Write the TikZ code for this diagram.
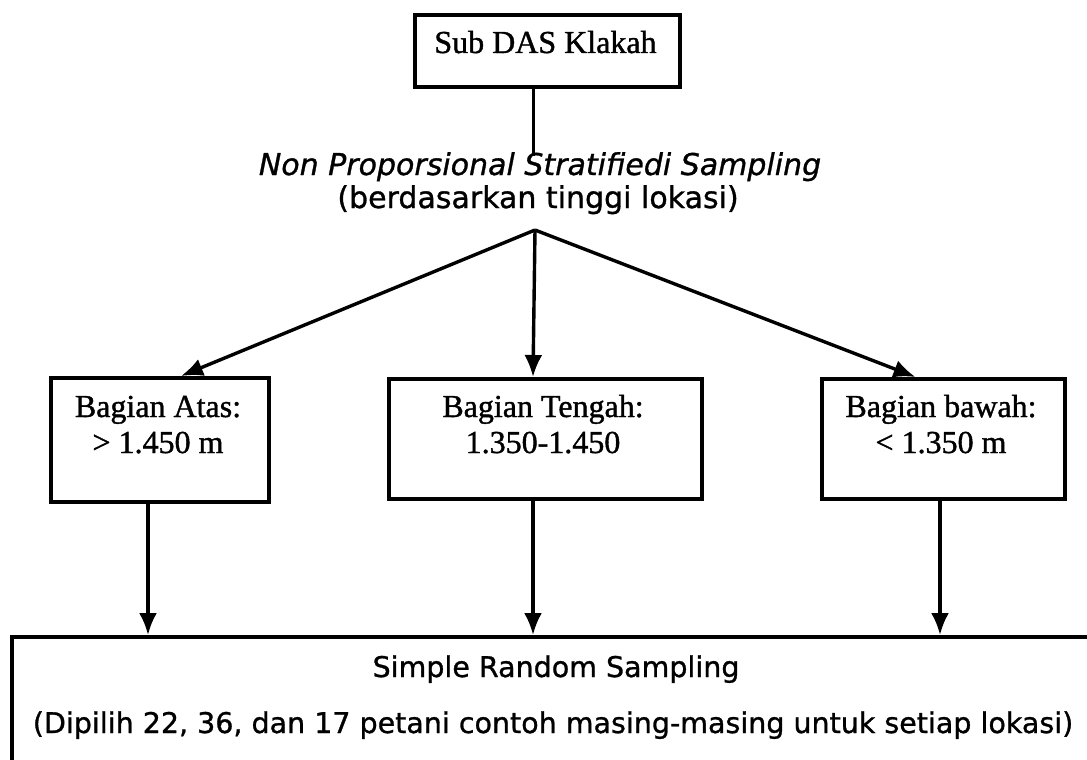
\documentclass[tikz,border=0pt]{standalone}
\usepackage{fontspec}
\setmainfont{Liberation Serif}[FakeBold=1.2]
\newfontfamily\vsans{DejaVu Sans}[FakeBold=1.0]
\usetikzlibrary{arrows.meta,calc}

\tikzset{
  stratbox/.style={draw=black, line width=4pt, rectangle, inner sep=0pt},
  boxtext/.style={font=\fontsize{32}{36}\selectfont, anchor=base, inner sep=0pt},
  sanstext/.style={font=\vsans\fontsize{28.5}{34}\selectfont, anchor=base, inner sep=0pt},
  midtext/.style={font=\vsans\fontsize{30}{33}\selectfont, anchor=base, inner sep=0pt},
  flow/.style={line width=3.4pt, -{Latex[length=22pt,width=18pt]}},
  link/.style={line width=3pt}
}

\begin{document}
\begin{tikzpicture}[x=1pt, y=-1pt]
  \useasboundingbox (0,0) rectangle (1087,760);
  \clip (0,0) rectangle (1087,760);

  % top box
  \node[stratbox, minimum width=265pt, minimum height=72pt, anchor=north west] (top) at (413,13) {};
  \node[boxtext] (toptxt) at (545.5,53) {Sub DAS Klakah};

  % sampling method text
  \node[midtext] (npss) at (540,175) {\itshape Non Proporsional Stratifiedi Sampling};
  \node[midtext] (basis) at (538,208) {(berdasarkan tinggi lokasi)};
  \coordinate (stem) at (533,156);
  \coordinate (apex) at (535,230);
  \draw[link] (top.south -| stem) -- (stem);

  % strata boxes
  \node[stratbox, minimum width=218pt, minimum height=124pt, anchor=north west] (upper) at (49,376) {};
  \node[stratbox, minimum width=313pt, minimum height=120pt, anchor=north west] (middle) at (387,377) {};
  \node[stratbox, minimum width=243pt, minimum height=120pt, anchor=north west] (lower) at (820,377) {};

  \node[boxtext] (uppert1) at (158,417) {Bagian Atas:};
  \node[boxtext] (uppert2) at (158,453) {> 1.450 m};
  \node[boxtext] (middlet1) at (543,417) {Bagian Tengah:};
  \node[boxtext] (middlet2) at (543,453) {1.350-1.450};
  \node[boxtext] (lowert1) at (941,417) {Bagian bawah:};
  \node[boxtext] (lowert2) at (941,453) {< 1.350 m};

  % branches from the method
  \draw[flow] (apex) -- ([xshift=21pt]upper.north);
  \draw[flow] (apex) -- (middle.north -| stem);
  \draw[flow] (apex) -- ([xshift=-28pt]lower.north);

  % bottom box
  \node[stratbox, minimum width=1100pt, minimum height=160pt, anchor=north west] (srs) at (10,635) {};
  \node[sanstext] (srst1) at (556,677) {Simple Random Sampling};
  \node[sanstext] (srst2) at (553,733) {(Dipilih 22, 36, dan 17 petani contoh masing-masing untuk setiap lokasi)};

  % strata down to sampling
  \coordinate (dl) at (148,0);
  \coordinate (dm) at (533,0);
  \coordinate (dr) at (940,0);
  \draw[flow] (upper.south -| dl) -- (srs.north -| dl);
  \draw[flow] (middle.south -| dm) -- (srs.north -| dm);
  \draw[flow] (lower.south -| dr) -- (srs.north -| dr);
\end{tikzpicture}
\end{document}
